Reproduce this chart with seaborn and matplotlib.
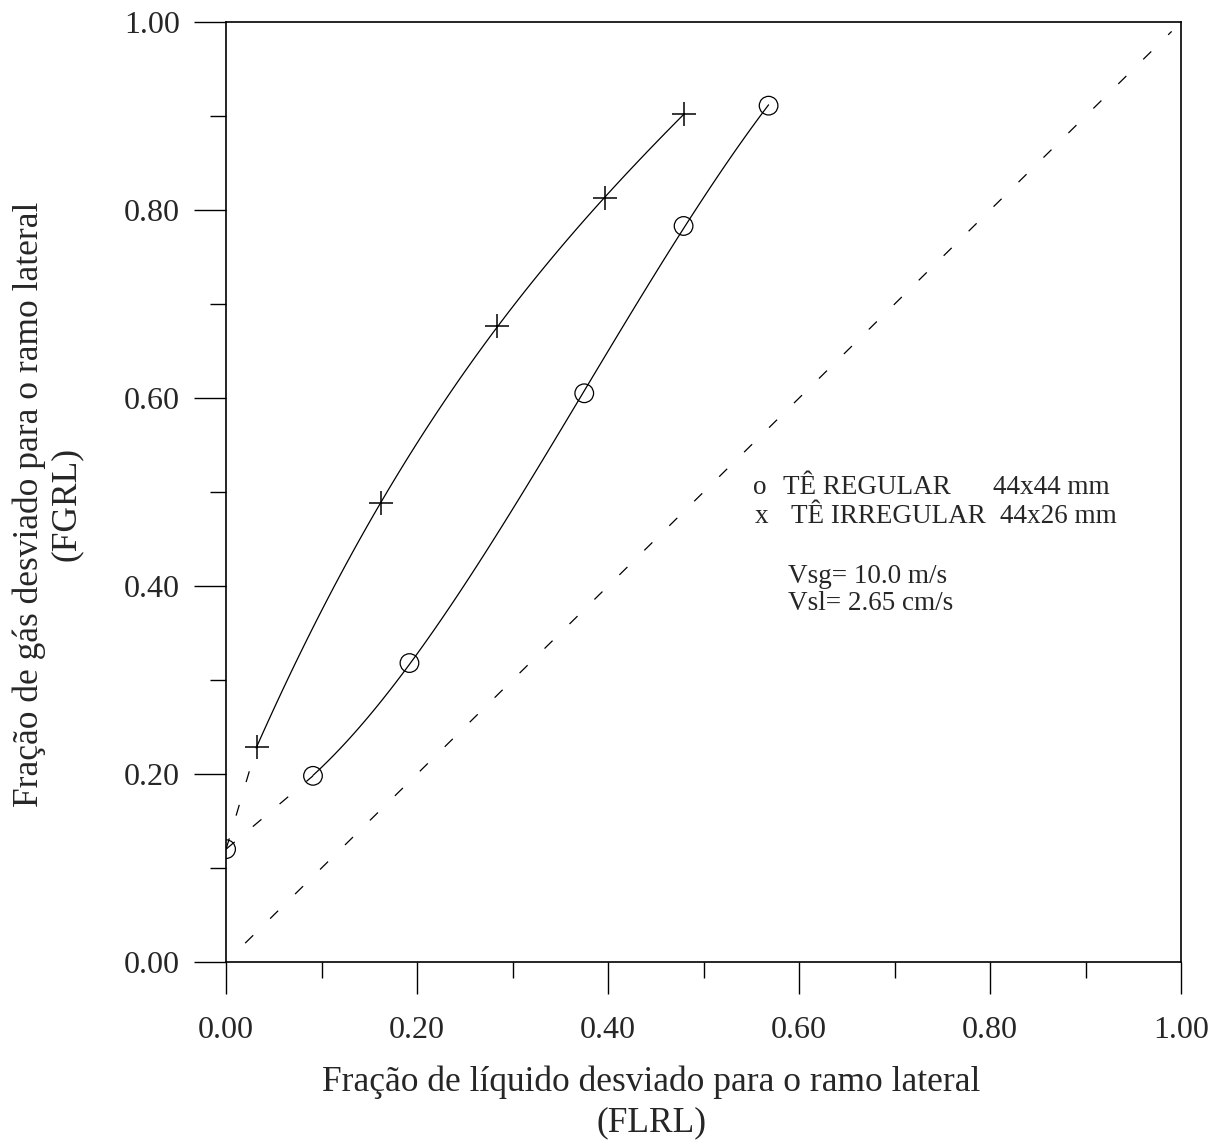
import numpy as np
import pandas as pd
import matplotlib
matplotlib.use("Agg")
import matplotlib.pyplot as plt
import seaborn as sns
from matplotlib.ticker import MultipleLocator

# ---- data ----
x_regular = [0.000, 0.091, 0.192, 0.375, 0.479, 0.568]
y_regular = [0.120, 0.198, 0.318, 0.605, 0.783, 0.911]
x_irregular = [0.032, 0.162, 0.284, 0.397, 0.479]
y_irregular = [0.229, 0.488, 0.677, 0.813, 0.902]
diag_x = [0.02, 0.99]
diag_y = [0.02, 0.99]
x_ticks = [0.0, 0.2, 0.4, 0.6, 0.8, 1.0]
y_ticks = [0.0, 0.2, 0.4, 0.6, 0.8, 1.0]

sns.set_theme(style="ticks")
plt.rcParams["font.family"] = ["Liberation Serif", "DejaVu Serif"]

fig = plt.figure(figsize=(12.09, 11.46), dpi=100)
ax = fig.add_axes([0.187, 0.1606, 0.790, 0.8202])

df_reg = pd.DataFrame({"x": x_regular, "y": y_regular})
df_irr = pd.DataFrame({"x": x_irregular, "y": y_irregular})

line_kws = dict(color="black", lw=0.9)
# smooth solid curves through the data
sns.regplot(data=df_reg.iloc[1:], x="x", y="y", order=3, ci=None, scatter=False,
            truncate=True, line_kws=line_kws, ax=ax)
sns.regplot(data=df_irr, x="x", y="y", order=3, ci=None, scatter=False,
            truncate=True, line_kws=line_kws, ax=ax)

# dashed extensions to the first regular point and the diagonal
dash_kws = dict(color="black", lw=0.9, dashes=(9, 19))
ax.plot([x_regular[0], x_irregular[0]], [y_regular[0], y_irregular[0]], **dash_kws)
ax.plot([x_regular[0], x_regular[1]], [y_regular[0], y_regular[1]], **dash_kws)
ax.plot(diag_x, diag_y, **dash_kws)

# markers
sns.scatterplot(data=df_reg, x="x", y="y", marker="o", s=180, facecolors="none",
                edgecolor="black", linewidth=0.9, ax=ax, zorder=5)
sns.scatterplot(data=df_irr, x="x", y="y", marker="+", s=300, color="black",
                linewidth=1.1, ax=ax, zorder=5)

ax.set_xlim(0, 1)
ax.set_ylim(0, 1)
ax.set_xticks(x_ticks)
ax.set_yticks(y_ticks)
ax.set_xticklabels([f"{v:.2f}" for v in x_ticks])
ax.set_yticklabels([f"{v:.2f}" for v in y_ticks])
ax.xaxis.set_minor_locator(MultipleLocator(0.1))
ax.yaxis.set_minor_locator(MultipleLocator(0.1))
ax.tick_params(which="major", direction="out", length=23, width=1.0,
               labelsize=23, color="black")
ax.tick_params(axis="x", which="major", pad=16)
ax.tick_params(axis="y", which="major", pad=10)
ax.tick_params(which="minor", direction="out", length=11.5, width=1.0, color="black")
ax.tick_params(top=False, right=False, which="both")
for s in ax.spines.values():
    s.set_visible(True)
    s.set_linewidth(1.2)
    s.set_color("black")

ax.set_xlabel("Fração de líquido desviado para o ramo lateral\n(FLRL)",
              fontsize=25.5, linespacing=1.3)
ax.xaxis.set_label_coords(0.445, -0.110)
ax.set_ylabel("Fração de gás desviado para o ramo lateral\n(FGRL)",
              fontsize=25.5, linespacing=1.15)
ax.yaxis.set_label_coords(-0.150, 0.487)

txt_kw = dict(transform=ax.transData, fontsize=19.5, va="center", ha="left")
ax.text(0.552, 0.505, "o", **txt_kw)
ax.text(0.583, 0.505, "TÊ REGULAR", **txt_kw)
ax.text(0.803, 0.505, "44x44 mm", **txt_kw)
ax.text(0.554, 0.474, "x", **txt_kw)
ax.text(0.591, 0.474, "TÊ IRREGULAR", **txt_kw)
ax.text(0.810, 0.474, "44x26 mm", **txt_kw)
ax.text(0.588, 0.410, "Vsg= 10.0 m/s", **txt_kw)
ax.text(0.588, 0.381, "Vsl= 2.65 cm/s", **txt_kw)

fig.savefig("out.png", dpi=100, facecolor="white")
